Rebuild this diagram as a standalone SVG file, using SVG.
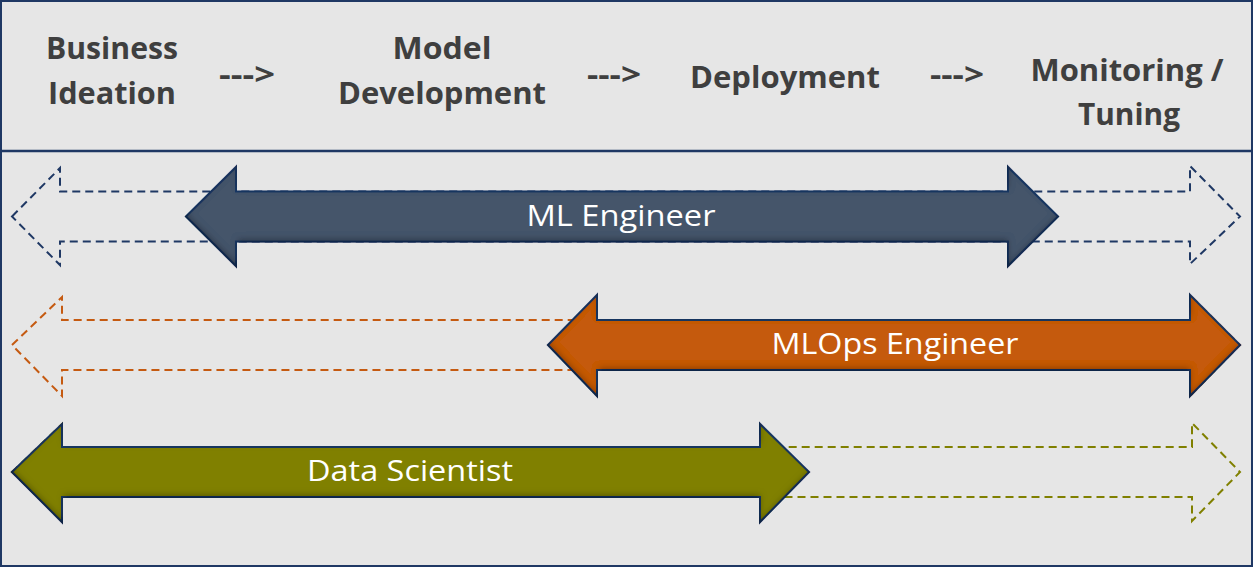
<svg xmlns="http://www.w3.org/2000/svg" width="1253" height="567" viewBox="0 0 1253 567">
<defs>
<style>
.hdr{font-family:"Open Sans","Liberation Sans",sans-serif;font-weight:bold;font-size:31px;fill:#3f3f3f;text-anchor:middle}
.lbl{font-family:"Open Sans","Liberation Sans",sans-serif;font-size:29px;fill:#ffffff;text-anchor:middle}
.dash{fill:none;stroke-width:2;stroke-dasharray:8 5}
.solid{stroke:#1f3864;stroke-width:2;stroke-linejoin:miter;filter:url(#inner)}
</style>
<filter id="inner" x="-5%" y="-20%" width="110%" height="140%">
<feComponentTransfer in="SourceAlpha" result="inv"><feFuncA type="table" tableValues="1 0"/></feComponentTransfer>
<feGaussianBlur in="inv" stdDeviation="3" result="blur"/>
<feOffset in="blur" dx="1" dy="-3" result="off"/>
<feFlood flood-color="#000" flood-opacity="0.6"/>
<feComposite in2="off" operator="in" result="sh"/>
<feComposite in="sh" in2="SourceAlpha" operator="in" result="ish"/>
<feMerge><feMergeNode in="SourceGraphic"/><feMergeNode in="ish"/></feMerge>
</filter>
</defs>
<rect x="1" y="1" width="1251" height="565" fill="#e6e6e6" stroke="#1f3864" stroke-width="2"/>
<line x1="0" y1="151" x2="1253" y2="151" stroke="#1f3864" stroke-width="2.5"/>

<g id="stage-business-ideation">
<text class="hdr" x="112" y="59" textLength="132" lengthAdjust="spacingAndGlyphs">Business</text>
<text class="hdr" x="112" y="104" textLength="128" lengthAdjust="spacingAndGlyphs">Ideation</text>
</g>
<g id="stage-model-development">
<text class="hdr" x="442" y="59" textLength="99" lengthAdjust="spacingAndGlyphs">Model</text>
<text class="hdr" x="442" y="104" textLength="208" lengthAdjust="spacingAndGlyphs">Development</text>
</g>
<g id="stage-deployment">
<text class="hdr" x="785" y="88" textLength="190" lengthAdjust="spacingAndGlyphs">Deployment</text>
</g>
<g id="stage-monitoring">
<text class="hdr" x="1127" y="81" textLength="193" lengthAdjust="spacingAndGlyphs">Monitoring /</text>
<text class="hdr" x="1129" y="125" textLength="102" lengthAdjust="spacingAndGlyphs">Tuning</text>
</g>
<g id="connectors">
<text class="hdr" x="247" y="85" textLength="56" lengthAdjust="spacingAndGlyphs">---&gt;</text>
<text class="hdr" x="614" y="85" textLength="54" lengthAdjust="spacingAndGlyphs">---&gt;</text>
<text class="hdr" x="957" y="85" textLength="54" lengthAdjust="spacingAndGlyphs">---&gt;</text>
</g>

<g id="ml-engineer">
<polygon class="dash" stroke="#1f3864" points="12,216.5 60,168 60,191.5 1190,191.5 1190,166 1240,216.5 1190,264 1190,241.5 60,241.5 60,265"/>
<polygon class="solid" fill="#44546a" points="186,216.5 236,167 236,191.5 1008,191.5 1008,167 1058,216.5 1008,266 1008,241.5 236,241.5 236,266"/>
<text class="lbl" x="621" y="226" textLength="189" lengthAdjust="spacingAndGlyphs">ML Engineer</text>
</g>

<g id="mlops-engineer">
<polygon class="dash" stroke="#c55a11" points="12,345 62,297 62,320 1190,320 1190,295 1240,345 1190,396 1190,370 62,370 62,396"/>
<polygon class="solid" fill="#c55a11" points="548,345 597,295 597,320 1190,320 1190,295 1240,345 1190,396 1190,370 597,370 597,396"/>
<text class="lbl" x="895" y="354" textLength="247" lengthAdjust="spacingAndGlyphs">MLOps Engineer</text>
</g>

<g id="data-scientist">
<polygon class="dash" stroke="#808000" points="12,472 62,424 62,447 1192,447 1192,423 1240,472 1192,521 1192,497 62,497 62,521"/>
<polygon class="solid" fill="#808000" points="12,472 62,424 62,447 760,447 760,424 809,472 760,522 760,497 62,497 62,522"/>
<text class="lbl" x="410" y="481" textLength="206" lengthAdjust="spacingAndGlyphs">Data Scientist</text>
</g>
</svg>
